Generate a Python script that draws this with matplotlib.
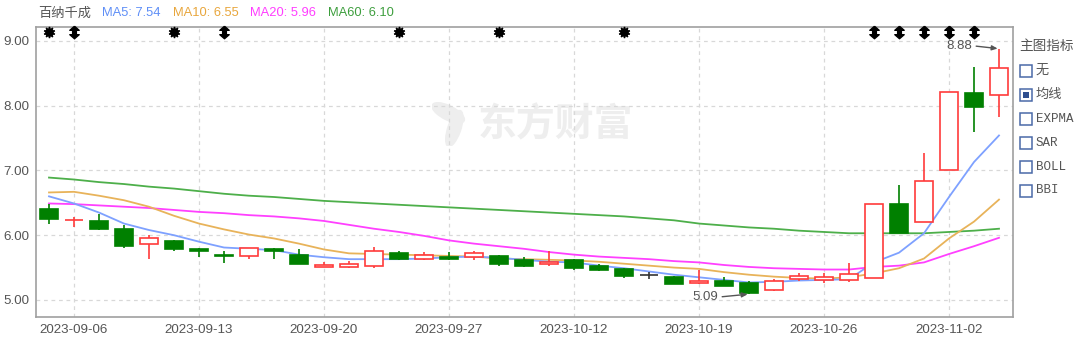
import matplotlib
matplotlib.use('Agg')
import matplotlib.pyplot as plt
import matplotlib.transforms as mtransforms
from matplotlib.patches import Rectangle, Ellipse
from matplotlib.path import Path

# ---------------- data ----------------
dates = ['2023-09-05', '2023-09-06', '2023-09-07', '2023-09-08', '2023-09-11', '2023-09-12',
         '2023-09-13', '2023-09-14', '2023-09-15', '2023-09-18', '2023-09-19', '2023-09-20',
         '2023-09-21', '2023-09-22', '2023-09-25', '2023-09-26', '2023-09-27', '2023-09-28',
         '2023-10-09', '2023-10-10', '2023-10-11', '2023-10-12', '2023-10-13', '2023-10-16',
         '2023-10-17', '2023-10-18', '2023-10-19', '2023-10-20', '2023-10-23', '2023-10-24',
         '2023-10-25', '2023-10-26', '2023-10-27', '2023-10-30', '2023-10-31', '2023-11-01',
         '2023-11-02', '2023-11-03', '2023-11-06']
opens = [6.41, 6.23, 6.22, 6.09, 5.86, 5.91, 5.78, 5.70, 5.68, 5.78, 5.70, 5.51, 5.51, 5.53,
         5.73, 5.63, 5.67, 5.67, 5.68, 5.62, 5.56, 5.62, 5.52, 5.48, 5.38, 5.36, 5.26, 5.30,
         5.26, 5.16, 5.32, 5.31, 5.31, 5.34, 6.48, 6.20, 7.00, 8.20, 8.17]
highs = [6.48, 6.28, 6.33, 6.15, 6.00, 5.93, 5.80, 5.76, 5.81, 5.80, 5.78, 5.58, 5.60, 5.82,
         5.76, 5.74, 5.74, 5.75, 5.69, 5.67, 5.75, 5.64, 5.56, 5.50, 5.43, 5.37, 5.47, 5.35,
         5.30, 5.33, 5.41, 5.41, 5.57, 6.48, 6.78, 7.27, 8.21, 8.60, 8.88]
lows = [6.18, 6.13, 6.08, 5.80, 5.64, 5.76, 5.66, 5.57, 5.63, 5.63, 5.55, 5.51, 5.49, 5.49,
        5.61, 5.61, 5.61, 5.62, 5.53, 5.51, 5.53, 5.47, 5.44, 5.34, 5.32, 5.25, 5.24, 5.21,
        5.09, 5.14, 5.30, 5.26, 5.27, 5.34, 6.04, 6.20, 7.00, 7.60, 7.83]
closes = [6.25, 6.24, 6.10, 5.83, 5.96, 5.78, 5.76, 5.68, 5.80, 5.75, 5.55, 5.54, 5.56, 5.75,
          5.63, 5.69, 5.64, 5.73, 5.56, 5.52, 5.59, 5.49, 5.47, 5.37, 5.38, 5.25, 5.30, 5.22,
          5.10, 5.30, 5.37, 5.35, 5.40, 6.48, 6.04, 6.84, 8.21, 7.98, 8.58]
ma5 = [6.60, 6.49, 6.35, 6.18, 6.08, 6.00, 5.90, 5.81, 5.79, 5.77, 5.70, 5.66, 5.63, 5.63,
       5.63, 5.64, 5.66, 5.67, 5.65, 5.62, 5.59, 5.58, 5.53, 5.49, 5.44, 5.39, 5.35, 5.31,
       5.27, 5.28, 5.30, 5.31, 5.32, 5.58, 5.73, 6.03, 6.59, 7.13, 7.54]
ma10 = [6.66, 6.67, 6.61, 6.54, 6.44, 6.30, 6.18, 6.09, 6.01, 5.95, 5.87, 5.78, 5.72, 5.71,
        5.70, 5.69, 5.68, 5.67, 5.64, 5.63, 5.62, 5.61, 5.59, 5.56, 5.53, 5.50, 5.48, 5.43,
        5.39, 5.36, 5.34, 5.33, 5.35, 5.41, 5.49, 5.64, 5.95, 6.21, 6.55]
ma20 = [6.49, 6.48, 6.46, 6.44, 6.42, 6.39, 6.36, 6.34, 6.31, 6.29, 6.26, 6.22, 6.16, 6.10,
        6.05, 5.99, 5.92, 5.87, 5.83, 5.79, 5.74, 5.70, 5.67, 5.65, 5.63, 5.60, 5.58, 5.54,
        5.51, 5.49, 5.48, 5.47, 5.47, 5.51, 5.53, 5.58, 5.71, 5.83, 5.96]
ma60 = [6.89, 6.86, 6.82, 6.79, 6.75, 6.72, 6.68, 6.64, 6.61, 6.59, 6.56, 6.53, 6.51, 6.49,
        6.47, 6.45, 6.43, 6.41, 6.39, 6.37, 6.35, 6.33, 6.31, 6.29, 6.26, 6.23, 6.18, 6.15,
        6.12, 6.10, 6.07, 6.05, 6.03, 6.03, 6.03, 6.03, 6.05, 6.07, 6.10]
star_days = [0, 5, 14, 18, 23]
arrow_days = [1, 7, 33, 34, 35, 36, 37]
tick_days = ['2023-09-06', '2023-09-13', '2023-09-20', '2023-09-27', '2023-10-12',
             '2023-10-19', '2023-10-26', '2023-11-02']
y_ticks = [5.0, 6.0, 7.0, 8.0, 9.0]
stock_name = '百纳千成'
indicator_title = '主图指标'
indicators = ['无', '均线', 'EXPMA', 'SAR', 'BOLL', 'BBI']
checked = '均线'

# ---------------- style ----------------
RED = '#ff3b3b'
GREEN = '#008000'
C_MA5 = '#7ea1ff'
C_MA10 = '#e8b35a'
C_MA20 = '#ff40ff'
C_MA60 = '#4daf4a'
T_MA5 = '#5f8ff7'
T_MA10 = '#e8a63c'
T_MA20 = '#ff3dff'
T_MA60 = '#3d9e3d'
CJK = ['Noto Sans CJK SC', 'DejaVu Sans']
LAT = ['Liberation Sans', 'Noto Sans CJK SC']

W, H = 1080, 342
fig = plt.figure(figsize=(W / 100, H / 100), dpi=100)
fig.patch.set_facecolor('white')


def fx(x):
    return x / W


def fy(y):
    return 1 - y / H


ax = fig.add_axes([fx(36), fy(317), fx(1013) - fx(36), fy(27) - fy(317)])
ax.set_xlim(-0.52, 38.56)
ax.set_ylim(4.737, 9.215)

# grid
for s in ax.spines.values():
    s.set_color('#a0a0a0')
    s.set_linewidth(1.2)
ax.set_yticks(y_ticks)
ax.set_yticklabels(['%.2f' % v for v in y_ticks])
tick_pos = [dates.index(d) for d in tick_days]
ax.set_xticks(tick_pos)
ax.set_xticklabels(tick_days)
ax.tick_params(length=0, labelsize=9.6, colors='#555555', pad=5)
for lab in ax.get_xticklabels() + ax.get_yticklabels():
    lab.set_family(LAT)
ax.grid(True, color='#d8d8d8', linestyle=(0, (3, 3)), linewidth=0.9)
ax.set_axisbelow(True)

# watermark
wm_color = '#eeeeee'
fig.text(fx(555), fy(125), '东方财富', family=CJK, fontsize=28, fontweight='bold',
         color=wm_color, ha='center', va='center', zorder=0)
ax_wm = fig.add_axes([fx(432), fy(146), fx(36), fy(100) - fy(146)], zorder=0)
ax_wm.set_axis_off()
ax_wm.set_xlim(0, 1)
ax_wm.set_ylim(0, 1)
ax_wm.add_patch(Ellipse((0.45, 0.72), 0.95, 0.32, angle=-20, color=wm_color))
ax_wm.add_patch(Ellipse((0.62, 0.38), 0.35, 0.85, angle=-25, color=wm_color))
ax.set_zorder(1)
ax.patch.set_alpha(0)

# moving averages
x = list(range(len(dates)))
ax.plot(x, ma60, color=C_MA60, lw=1.3, zorder=2)
ax.plot(x, ma20, color=C_MA20, lw=1.3, zorder=2)
ax.plot(x, ma10, color=C_MA10, lw=1.3, zorder=2)
ax.plot(x, ma5, color=C_MA5, lw=1.3, zorder=2)

# candles
bw = 0.72
for i in x:
    o, h, l, c = opens[i], highs[i], lows[i], closes[i]
    if c > o:
        col = RED
        face = 'white'
    elif c < o:
        col = GREEN
        face = GREEN
    else:
        col = '#333333'
        face = 'white'
    ax.vlines(i, l, h, color=col, lw=1.2, zorder=3)
    if abs(c - o) < 1e-9:
        ax.hlines(o, i - bw / 2, i + bw / 2, color=col, lw=1.2, zorder=4)
    else:
        ax.bar(i, c - o, bottom=o, width=bw, facecolor=face, edgecolor=col,
               linewidth=1.2, zorder=4)

# top markers
trans = mtransforms.blended_transform_factory(ax.transData, ax.transAxes)
ax.plot(star_days, [0.982] * len(star_days), linestyle='none', marker=(10, 1, 0),
        markersize=8, color='black', transform=trans, clip_on=False, zorder=5)
ax.plot(star_days, [0.982] * len(star_days), linestyle='none', marker='o',
        markersize=4.5, color='black', transform=trans, clip_on=False, zorder=5)
dbl = Path([(0, 1), (0.75, 0.35), (0.3, 0.35), (0.3, -0.35), (0.75, -0.35), (0, -1),
            (-0.75, -0.35), (-0.3, -0.35), (-0.3, 0.35), (-0.75, 0.35), (0, 1)])
ax.plot(arrow_days, [0.982] * len(arrow_days), linestyle='none', marker=dbl,
        markersize=9, color='black', transform=trans, clip_on=False, zorder=5)

# max / min annotations
imax = highs.index(max(highs))
imin = lows.index(min(lows))
aprops = dict(arrowstyle='-|>,head_length=0.35,head_width=0.15', color='#555555', lw=1,
              shrinkA=1, shrinkB=1, relpos=(1, 0.5))
ax.annotate('%.2f' % highs[imax], xy=(imax, highs[imax]), xytext=(-27, 3),
            textcoords='offset pixels', ha='right', va='center', fontsize=9.5,
            color='#555555', family=LAT, arrowprops=aprops, zorder=6)
ax.annotate('%.2f' % lows[imin], xy=(imin, lows[imin]), xytext=(-31, -3),
            textcoords='offset pixels', ha='right', va='center', fontsize=9.5,
            color='#555555', family=LAT, arrowprops=aprops, zorder=6)

# legend line at top
fig.text(fx(38), fy(13), stock_name, family=CJK, fontsize=9.5, color='#555555',
         ha='left', va='center')
legend_items = [('MA5: %.2f' % ma5[-1], T_MA5, 102), ('MA10: %.2f' % ma10[-1], T_MA10, 173),
                ('MA20: %.2f' % ma20[-1], T_MA20, 250), ('MA60: %.2f' % ma60[-1], T_MA60, 328)]
for txt, col, xp in legend_items:
    fig.text(fx(xp), fy(13), txt, family=LAT, fontsize=9.3, color=col,
             ha='left', va='center')

# right indicator panel
fig.text(fx(1019), fy(46), indicator_title, family=CJK, fontsize=9.8, color='#555555',
         ha='left', va='center')
for k, name in enumerate(indicators):
    yc = 70.5 + 24 * k
    fig.patches.append(Rectangle((fx(1020), fy(yc + 6)), fx(12), fy(yc - 6) - fy(yc + 6),
                                 transform=fig.transFigure, facecolor='white',
                                 edgecolor='#4a6aa8', linewidth=1.1))
    if name == checked:
        fig.patches.append(Rectangle((fx(1023), fy(yc + 3)), fx(6), fy(yc - 3) - fy(yc + 3),
                                     transform=fig.transFigure, facecolor='#2f4f8f',
                                     edgecolor='none'))
    is_cjk = any(ord(ch) > 0x2000 for ch in name)
    fig.text(fx(1036), fy(yc), name,
             family=CJK if is_cjk else ['Liberation Mono', 'DejaVu Sans Mono'],
             fontsize=9.5 if is_cjk else 9, color='#555555', ha='left', va='center')

fig.savefig('out.png', dpi=100, facecolor='white')
